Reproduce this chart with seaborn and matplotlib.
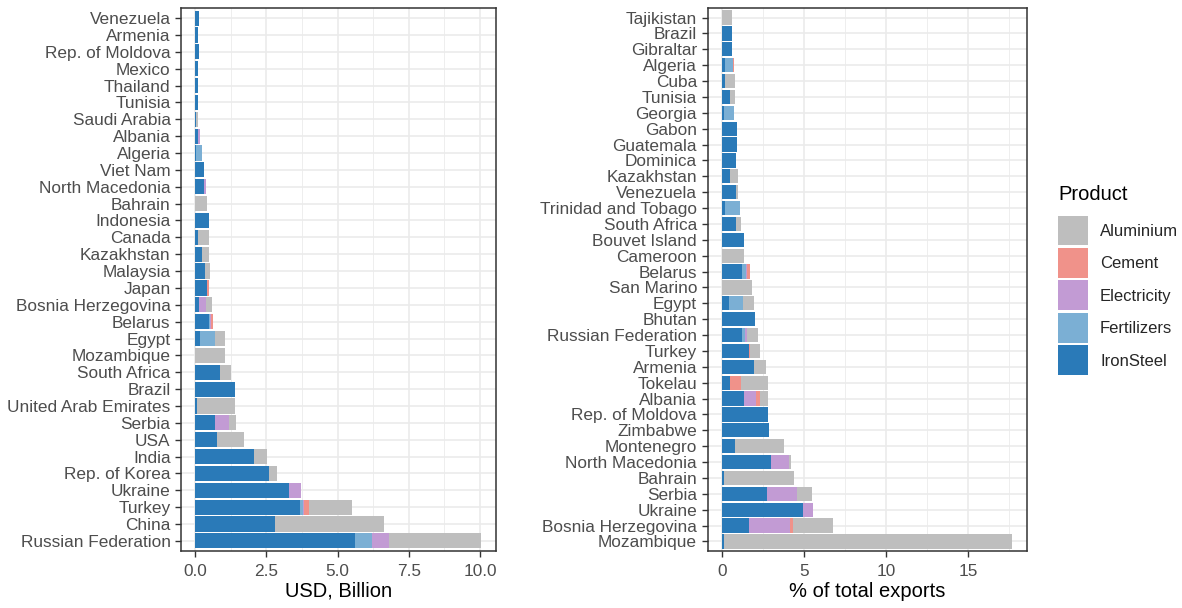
import numpy as np
import pandas as pd
import matplotlib
matplotlib.use("Agg")
import matplotlib.pyplot as plt
from matplotlib.patches import Patch
from matplotlib.ticker import FixedLocator
import seaborn as sns

# ---------------- data ----------------
products = ["Aluminium", "Cement", "Electricity", "Fertilizers", "IronSteel"]
stack_order = ["IronSteel", "Fertilizers", "Electricity", "Cement", "Aluminium"]
product_colors = {
    "Aluminium": "#BEBEBE",
    "Cement": "#F0928A",
    "Electricity": "#C29BD4",
    "Fertilizers": "#7BAFD4",
    "IronSteel": "#2A7AB8",
}

# Left panel: USD, Billion (top to bottom)
usd_countries = [
    "Venezuela", "Armenia", "Rep. of Moldova", "Mexico", "Thailand", "Tunisia",
    "Saudi Arabia", "Albania", "Algeria", "Viet Nam", "North Macedonia", "Bahrain",
    "Indonesia", "Canada", "Kazakhstan", "Malaysia", "Japan", "Bosnia Herzegovina",
    "Belarus", "Egypt", "Mozambique", "South Africa", "Brazil",
    "United Arab Emirates", "Serbia", "USA", "India", "Rep. of Korea", "Ukraine",
    "Turkey", "China", "Russian Federation",
]
usd_ironsteel = [0.12, 0.10, 0.13, 0.10, 0.10, 0.10, 0.01, 0.11, 0.03, 0.32, 0.29, 0.0,
                 0.47, 0.08, 0.24, 0.33, 0.43, 0.14, 0.47, 0.18, 0.0, 0.88, 1.40,
                 0.06, 0.68, 0.78, 2.05, 2.58, 3.29, 3.68, 2.81, 5.60]
usd_fertilizers = [0, 0, 0, 0, 0, 0, 0, 0, 0.21, 0, 0, 0,
                   0, 0, 0, 0, 0, 0, 0.06, 0.50, 0, 0, 0,
                   0, 0, 0, 0, 0, 0, 0.12, 0, 0.60]
usd_electricity = [0, 0, 0, 0, 0, 0, 0, 0.06, 0, 0, 0.08, 0,
                   0, 0, 0, 0, 0, 0.23, 0.02, 0, 0, 0, 0,
                   0, 0.52, 0, 0, 0, 0.42, 0.02, 0, 0.62]
usd_cement = [0, 0, 0, 0, 0, 0, 0, 0.01, 0, 0, 0, 0,
              0, 0, 0, 0, 0.06, 0, 0.09, 0, 0, 0, 0,
              0, 0, 0, 0, 0, 0, 0.16, 0, 0]
usd_aluminium = [0, 0, 0, 0, 0, 0, 0.08, 0, 0, 0, 0.01, 0.43,
                 0, 0.40, 0.24, 0.20, 0.01, 0.21, 0, 0.37, 1.05, 0.37, 0,
                 1.34, 0.24, 0.92, 0.46, 0.29, 0, 1.54, 3.80, 3.23]

# Right panel: % of total exports (top to bottom)
pct_countries = [
    "Tajikistan", "Brazil", "Gibraltar", "Algeria", "Cuba", "Tunisia", "Georgia",
    "Gabon", "Guatemala", "Dominica", "Kazakhstan", "Venezuela",
    "Trinidad and Tobago", "South Africa", "Bouvet Island", "Cameroon", "Belarus",
    "San Marino", "Egypt", "Bhutan", "Russian Federation", "Turkey", "Armenia",
    "Tokelau", "Albania", "Rep. of Moldova", "Zimbabwe", "Montenegro",
    "North Macedonia", "Bahrain", "Serbia", "Ukraine", "Bosnia Herzegovina",
    "Mozambique",
]
pct_ironsteel = [0, 0.63, 0.59, 0.20, 0.18, 0.50, 0.15, 0.91, 0.91, 0.85, 0.50, 0.83,
                 0.20, 0.83, 1.34, 0, 1.25, 0, 0.40, 2.03, 1.25, 1.62, 1.95,
                 0.49, 1.36, 2.80, 2.88, 0.81, 2.96, 0.10, 2.72, 4.93, 1.62, 0.10]
pct_fertilizers = [0, 0, 0, 0.47, 0, 0, 0.61, 0, 0, 0, 0, 0,
                   0.87, 0, 0, 0, 0.20, 0, 0.88, 0, 0.16, 0.03, 0,
                   0, 0, 0, 0, 0, 0, 0, 0, 0, 0, 0]
pct_electricity = [0, 0, 0, 0, 0, 0, 0, 0, 0, 0, 0, 0,
                   0, 0, 0, 0, 0.10, 0, 0, 0, 0.10, 0.02, 0,
                   0, 0.73, 0, 0, 0, 1.13, 0, 1.84, 0.59, 2.54, 0]
pct_cement = [0, 0, 0, 0.07, 0, 0, 0, 0, 0, 0, 0, 0,
              0, 0, 0, 0, 0.17, 0, 0, 0, 0, 0.03, 0,
              0.69, 0.20, 0, 0, 0, 0, 0, 0, 0, 0.18, 0]
pct_aluminium = [0.63, 0, 0, 0, 0.59, 0.27, 0, 0, 0, 0, 0.49, 0.16,
                 0, 0.33, 0, 1.34, 0, 1.82, 0.65, 0, 0.68, 0.63, 0.73,
                 1.62, 0.49, 0, 0, 2.98, 0.13, 4.30, 0.95, 0, 2.43, 17.57]

# ---------------- style ----------------
sns.set_style("white")
plt.rcParams["font.family"] = ["Liberation Sans", "DejaVu Sans"]

TICK_COLOR = "#4D4D4D"
BORDER = "#333333"
GRID = "#EBEBEB"

fig = plt.figure(figsize=(11.82, 6.08), dpi=100)
ax1 = fig.add_axes([181 / 1182, 1 - 551 / 608, (496 - 181) / 1182, 543 / 608])
ax2 = fig.add_axes([707.5 / 1182, 1 - 551 / 608, (1026.5 - 707.5) / 1182, 543 / 608])


def draw_stacked(ax, countries, layers):
    df = pd.DataFrame({"Country": countries})
    running = np.zeros(len(countries))
    for p in stack_order:
        running = running + np.asarray(layers[p], dtype=float)
        df[p] = running
    for p in reversed(stack_order):
        sns.barplot(data=df, x=p, y="Country", order=countries, orient="h",
                    color=product_colors[p], saturation=1, width=0.9,
                    errorbar=None, linewidth=0, ax=ax)
    return df


def style_axis(ax, n, xlim, major, minor, labels, xlabel):
    ax.set_ylim(n - 1 + 0.6, -0.6)
    ax.set_xlim(*xlim)
    ax.xaxis.set_major_locator(FixedLocator(major))
    ax.xaxis.set_minor_locator(FixedLocator(minor))
    ax.set_xticklabels(labels)
    ax.set_axisbelow(True)
    ax.grid(which="major", axis="both", color=GRID, linewidth=1.2)
    ax.grid(which="minor", axis="x", color=GRID, linewidth=0.6)
    ax.tick_params(axis="both", which="major", length=4, width=1.0,
                   color=BORDER, labelcolor=TICK_COLOR, labelsize=12.4, pad=3.5)
    ax.tick_params(axis="x", which="major", pad=5.5)
    ax.tick_params(which="minor", length=0)
    ax.tick_params(axis="x", bottom=True, top=False)
    ax.tick_params(axis="y", left=True, right=False)
    for s in ax.spines.values():
        s.set_visible(True)
        s.set_color(BORDER)
        s.set_linewidth(1.1)
    ax.set_ylabel("")
    ax.set_xlabel(xlabel, fontsize=14.5, color="black", labelpad=2)


draw_stacked(ax1, usd_countries, {
    "IronSteel": usd_ironsteel, "Fertilizers": usd_fertilizers,
    "Electricity": usd_electricity, "Cement": usd_cement,
    "Aluminium": usd_aluminium,
})
style_axis(ax1, len(usd_countries), (-0.5, 10.56),
           [0, 2.5, 5, 7.5, 10], [1.25, 3.75, 6.25, 8.75],
           ["0.0", "2.5", "5.0", "7.5", "10.0"], "USD, Billion")

draw_stacked(ax2, pct_countries, {
    "IronSteel": pct_ironsteel, "Fertilizers": pct_fertilizers,
    "Electricity": pct_electricity, "Cement": pct_cement,
    "Aluminium": pct_aluminium,
})
style_axis(ax2, len(pct_countries), (-0.88, 18.55),
           [0, 5, 10, 15], [2.5, 7.5, 12.5, 17.5],
           ["0", "5", "10", "15"], "% of total exports")

# Legend: title as separate text, entries below
fig.text(1058 / 1182, 1 - 195 / 608, "Product", fontsize=14.5, color="black",
         ha="left", va="center")
handles = [Patch(facecolor=product_colors[p], edgecolor="none", label=p) for p in products]
leg = fig.legend(handles=handles, loc="upper left",
                 bbox_to_anchor=(1058 / 1182, 1 - 215.5 / 608), frameon=False,
                 fontsize=12, handlelength=1.8,
                 handleheight=2.39, labelspacing=0.15, handletextpad=0.72,
                 borderpad=0, borderaxespad=0)

fig.savefig("out.png", dpi=100)
